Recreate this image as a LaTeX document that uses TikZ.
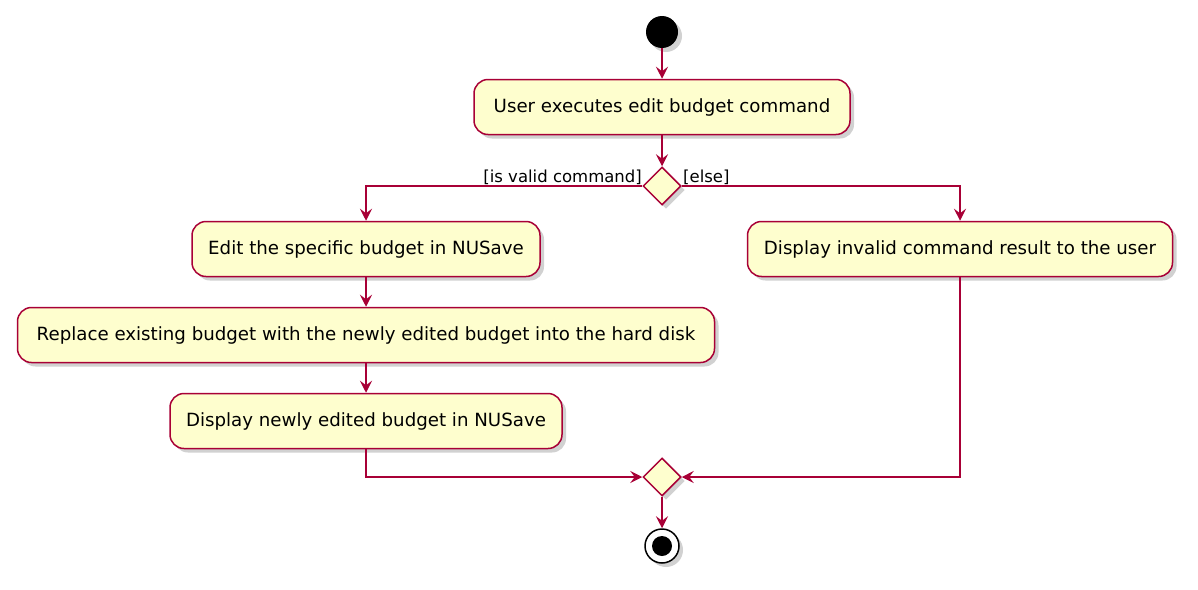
\documentclass[tikz,border=0pt]{standalone}
\usepackage{fontspec}
\setmainfont{DejaVu Sans}
\usetikzlibrary{arrows.meta,shadows,shapes.geometric}
\definecolor{pborder}{HTML}{A80036}
\definecolor{pfill}{HTML}{FEFECE}
\tikzset{
  pshadow/.style={drop shadow={shadow xshift=4pt, shadow yshift=-4pt, fill=black!30, opacity=0.6}},
  act/.style={draw=pborder, fill=pfill, line width=1.5pt, rounded corners=14pt,
    minimum height=55pt, inner xsep=0pt, font=\fontsize{18.2}{21}\selectfont, pshadow},
  dec/.style={draw=pborder, fill=pfill, line width=1.5pt, diamond, minimum width=38pt, minimum height=38pt, inner sep=0pt, pshadow},
  flow/.style={draw=pborder, line width=1.5pt, -{Stealth[length=12pt, width=12pt, inset=4.5pt]}},
  lbl/.style={font=\fontsize{16.5}{19}\selectfont, inner sep=0pt}
}
\begin{document}
\begin{tikzpicture}[x=1pt, y=-1pt]
\useasboundingbox (0,0) rectangle (1198,589);
\node[circle, fill=black, minimum size=32pt, inner sep=0pt, pshadow] (start) at (662,32) {};
\node[act, minimum width=376pt] (a1) at (662,107) {User executes edit budget command};
\node[dec] (d1) at (662,186) {};
\node[act, minimum width=348pt] (a2) at (366,249) {Edit the specific budget in NUSave};
\node[act, minimum width=697pt] (a3) at (366,335) {Replace existing budget with the newly edited budget into the hard disk};
\node[act, minimum width=392pt] (a4) at (366,421) {Display newly edited budget in NUSave};
\node[act, minimum width=425pt] (a5) at (960,249) {Display invalid command result to the user};
\node[dec] (d2) at (662,477) {};
\node[circle, draw=black, line width=1.5pt, fill=white, minimum size=34pt, inner sep=0pt, pshadow] (stop) at (662,546) {};
\node[circle, fill=black, minimum size=20pt, inner sep=0pt] (stopin) at (stop.center) {};
\draw[flow] (start) -- (a1);
\draw[flow] (a1) -- (d1);
\draw[flow] (d1.west) -| (a2.north);
\draw[flow] (d1.east) -| (a5.north);
\draw[flow] (a2) -- (a3);
\draw[flow] (a3) -- (a4);
\draw[flow] (a4.south) |- (d2.west);
\draw[flow] (a5.south) |- (d2.east);
\draw[flow] (d2) -- (stop);
\node[lbl, anchor=base east] (l1) at (642,182) {[is valid command]};
\node[lbl, anchor=base west] (l2) at (683,182) {[else]};
\end{tikzpicture}
\end{document}
